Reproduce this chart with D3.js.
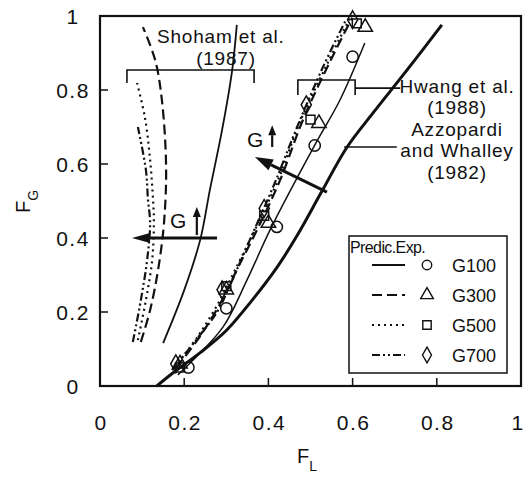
<!DOCTYPE html>
<html>
<head>
<meta charset="utf-8">
<script src="https://cdn.jsdelivr.net/npm/d3@7"></script>
<style>
  body { margin: 0; background: #fff; }
  text { font-family: "Liberation Sans", Arial, sans-serif; fill: #111; }
</style>
</head>
<body>
<script>
// ticks
const xTicks = [0, 0.2, 0.4, 0.6, 0.8, 1]
const yTicks = [0, 0.2, 0.4, 0.6, 0.8, 1]
const tickLabels = ["0", "0.2", "0.4", "0.6", "0.8", "1"]

const series = ["G100", "G300", "G500", "G700"]

// Shoham et al. (1987) predictions
const shohamG100 = [[0.150, 0.116], [0.200, 0.259], [0.238, 0.395], [0.261, 0.530], [0.290, 0.692], [0.314, 0.854], [0.325, 0.976]]
const shohamG300 = [[0.097, 0.119], [0.119, 0.205], [0.138, 0.314], [0.152, 0.441], [0.157, 0.592], [0.147, 0.773], [0.131, 0.881], [0.102, 0.970]]
const shohamG500 = [[0.090, 0.124], [0.109, 0.232], [0.124, 0.341], [0.128, 0.441], [0.126, 0.503], [0.119, 0.611], [0.107, 0.724], [0.088, 0.819]]
const shohamG700 = [[0.078, 0.119], [0.097, 0.232], [0.112, 0.341], [0.119, 0.441], [0.114, 0.503], [0.109, 0.584], [0.090, 0.700]]

// Hwang et al. (1988) predictions
const hwangG100 = [[0.185, 0.030], [0.214, 0.062], [0.292, 0.159], [0.349, 0.286], [0.404, 0.422], [0.513, 0.657], [0.570, 0.773], [0.629, 0.927]]
const hwangG300 = [[0.181, 0.049], [0.238, 0.135], [0.290, 0.232], [0.325, 0.314], [0.373, 0.422], [0.428, 0.557], [0.482, 0.719], [0.546, 0.876], [0.599, 0.995]]
const hwangG500 = [[0.176, 0.049], [0.233, 0.135], [0.285, 0.232], [0.321, 0.314], [0.368, 0.422], [0.423, 0.557], [0.477, 0.719], [0.542, 0.876], [0.594, 0.995]]
const hwangG700 = [[0.171, 0.043], [0.228, 0.124], [0.278, 0.200], [0.309, 0.273], [0.356, 0.395], [0.413, 0.543], [0.470, 0.705], [0.532, 0.868], [0.584, 0.989]]

// Azzopardi and Whalley (1982)
const azzopardi = [[0.135, 0.0], [0.173, 0.035], [0.238, 0.090], [0.300, 0.150], [0.360, 0.230], [0.420, 0.320], [0.470, 0.410], [0.525, 0.522], [0.587, 0.646], [0.650, 0.740], [0.730, 0.855], [0.812, 0.976]]

// experimental points
const expG100 = [[0.21, 0.05], [0.30, 0.21], [0.42, 0.43], [0.51, 0.65], [0.60, 0.89]]
const expG300 = [[0.19, 0.06], [0.30, 0.26], [0.40, 0.44], [0.52, 0.71], [0.63, 0.97]]
const expG500 = [[0.19, 0.05], [0.30, 0.27], [0.39, 0.46], [0.50, 0.72], [0.61, 0.98]]
const expG700 = [[0.18, 0.06], [0.29, 0.26], [0.39, 0.48], [0.49, 0.76], [0.60, 0.99]]

const dashes = { G100: null, G300: "10,5", G500: "2,4", G700: "8,3,2,3,2,3" }
const symbols = { G100: d3.symbolCircle, G300: d3.symbolTriangle, G500: d3.symbolSquare, G700: d3.symbolDiamond }

const width = 528, height = 480
const margin = { top: 16, right: 7, bottom: 94, left: 100 }

const svg = d3.select('body').append('svg')
    .attr('width', width)
    .attr('height', height)

const x = d3.scaleLinear().domain([0, 1]).range([margin.left, width - margin.right])
const y = d3.scaleLinear().domain([0, 1]).range([height - margin.bottom, margin.top])

const line = d3.line()
    .x(d => x(d[0]))
    .y(d => y(d[1]))
    .curve(d3.curveCatmullRom)

//curves
const curves = [
    [shohamG100, "G100", 1.8], [shohamG300, "G300", 2.2], [shohamG500, "G500", 2.2], [shohamG700, "G700", 2.2],
    [hwangG100, "G100", 1.5], [hwangG300, "G300", 2.2], [hwangG500, "G500", 2.2], [hwangG700, "G700", 2.2],
    [azzopardi, "G100", 3]
]
svg.append('g').selectAll('path')
    .data(curves).enter()
    .append('path')
    .attr('d', d => line(d[0]))
    .attr('fill', 'none')
    .attr('stroke', '#111')
    .attr('stroke-width', d => d[2])
    .attr('stroke-dasharray', d => dashes[d[1]])

//experimental markers
const markerSize = { G100: 100, G300: 90, G500: 80, G700: 90 }
const expSets = [[expG100, "G100"], [expG300, "G300"], [expG500, "G500"], [expG700, "G700"]]
expSets.forEach(([pts, g]) => {
    svg.append('g').selectAll('path')
        .data(pts).enter()
        .append('path')
        .attr('transform', d => `translate(${x(d[0])},${y(d[1])})`)
        .attr('d', d3.symbol().type(symbols[g]).size(markerSize[g]))
        .attr('fill', 'none')
        .attr('stroke', '#111')
        .attr('stroke-width', 1.5)
})

//frame + ticks
svg.append('rect')
    .attr('x', x(0)).attr('y', y(1))
    .attr('width', x(1) - x(0)).attr('height', y(0) - y(1))
    .attr('fill', 'none').attr('stroke', '#111').attr('stroke-width', 2.2)

svg.append('g').selectAll('line.xt')
    .data(xTicks.slice(1, -1)).enter()
    .append('line')
    .attr('x1', d => x(d)).attr('x2', d => x(d))
    .attr('y1', y(0)).attr('y2', y(0) - 8)
    .attr('stroke', '#111').attr('stroke-width', 1.5)
svg.append('g').selectAll('line.yt')
    .data(yTicks.slice(1, -1)).enter()
    .append('line')
    .attr('x1', x(0)).attr('x2', x(0) + 8)
    .attr('y1', d => y(d)).attr('y2', d => y(d))
    .attr('stroke', '#111').attr('stroke-width', 1.5)

svg.append('g').selectAll('text')
    .data(xTicks).enter()
    .append('text')
    .attr('x', d => d === 1 ? x(d) - 3 : x(d) + 1)
    .attr('y', 430)
    .attr('text-anchor', 'middle')
    .style('font-size', '21px')
    .style('letter-spacing', '1.5px')
    .text((d, i) => tickLabels[i])
svg.append('g').selectAll('text')
    .data(yTicks).enter()
    .append('text')
    .attr('x', 73)
    .attr('y', d => y(d) + 7.5)
    .attr('text-anchor', 'middle')
    .style('font-size', '21px')
    .style('letter-spacing', '1.5px')
    .text((d, i) => tickLabels[i])

//axis titles
const xt = svg.append('text')
    .attr('x', 297).attr('y', 463)
    .style('font-size', '20px')
xt.append('tspan').text('F')
xt.append('tspan').attr('dy', 8).style('font-size', '14px').text('L')

const yt = svg.append('text')
    .attr('transform', 'translate(30,213) rotate(-90)')
    .style('font-size', '20px')
yt.append('tspan').text('F')
yt.append('tspan').attr('dy', 8).style('font-size', '14px').text('G')

//brackets and labels
const bracket = (x0, x1, yy, drop) => `M${x(x0)},${y(yy) + drop}V${y(yy)}H${x(x1)}V${y(yy) + drop}`
svg.append('path')
    .attr('d', bracket(0.064, 0.366, 0.854, 13))
    .attr('fill', 'none').attr('stroke', '#111').attr('stroke-width', 1.6)
svg.append('path')
    .attr('d', bracket(0.470, 0.606, 0.827, 15) + `M${x(0.606)},${y(0.805)}H${x(0.713)}`)
    .attr('fill', 'none').attr('stroke', '#111').attr('stroke-width', 1.6)
svg.append('path')
    .attr('d', `M${x(0.580)},${y(0.646)}H${x(0.705)}`)
    .attr('fill', 'none').attr('stroke', '#111').attr('stroke-width', 1.6)

const label = (tx, ty, s, anchor) => svg.append('text')
    .attr('x', tx).attr('y', ty)
    .attr('text-anchor', anchor || 'middle')
    .style('font-size', '19px')
    .style('letter-spacing', '0.8px')
    .text(s)
label(157, 43, 'Shoham et al.', 'start')
label(226, 65, '(1987)')
label(457, 93, 'Hwang et al.')
label(457, 114, '(1988)')
label(457, 136, 'Azzopardi')
label(457, 157, 'and Whalley')
label(457, 179, '(1982)')

//arrows
const arrow = (x0, y0, x1, y1, w, head, hw) => {
    const a = Math.atan2(y1 - y0, x1 - x0)
    const bx = x1 - head * Math.cos(a), by = y1 - head * Math.sin(a)
    svg.append('line')
        .attr('x1', x0).attr('y1', y0).attr('x2', bx).attr('y2', by)
        .attr('stroke', '#111').attr('stroke-width', w)
    svg.append('path')
        .attr('d', `M${x1},${y1}L${bx - hw * Math.sin(a)},${by + hw * Math.cos(a)}L${bx + hw * Math.sin(a)},${by - hw * Math.cos(a)}Z`)
        .attr('fill', '#111')
}
arrow(x(0.278), y(0.400), x(0.076), y(0.400), 3, 18, 5)
arrow(x(0.539), y(0.524), x(0.368), y(0.619), 3, 18, 6)
arrow(x(0.230), y(0.408), x(0.230), y(0.484), 2.2, 10, 4)
arrow(x(0.409), y(0.646), x(0.409), y(0.705), 2.2, 10, 4)

svg.append('text').attr('x', 170).attr('y', 228).style('font-size', '21px').text('G')
svg.append('text').attr('x', 247).attr('y', 147).style('font-size', '21px').text('G')

//legend
const lg = svg.append('g')
lg.append('rect')
    .attr('x', 349).attr('y', 236).attr('width', 158).attr('height', 137)
    .attr('fill', '#fff').attr('stroke', '#111').attr('stroke-width', 1.5)
lg.append('text')
    .attr('x', 350).attr('y', 253)
    .style('font-size', '16px')
    .style('letter-spacing', '-0.6px')
    .text('Predic.Exp.')
const rows = lg.selectAll('.row')
    .data(series).enter()
    .append('g')
    .attr('transform', (d, i) => `translate(0,${265 + i * 30})`)
rows.append('line')
    .attr('x1', 372).attr('x2', 405)
    .attr('stroke', '#111').attr('stroke-width', 2)
    .attr('stroke-dasharray', d => dashes[d])
rows.append('path')
    .attr('transform', 'translate(427,0)')
    .attr('d', d => d3.symbol().type(symbols[d]).size(70)())
    .attr('fill', 'none').attr('stroke', '#111').attr('stroke-width', 1.4)
rows.append('text')
    .attr('x', 452).attr('y', 7)
    .style('font-size', '18px')
    .text(d => d)
</script>
</body>
</html>
